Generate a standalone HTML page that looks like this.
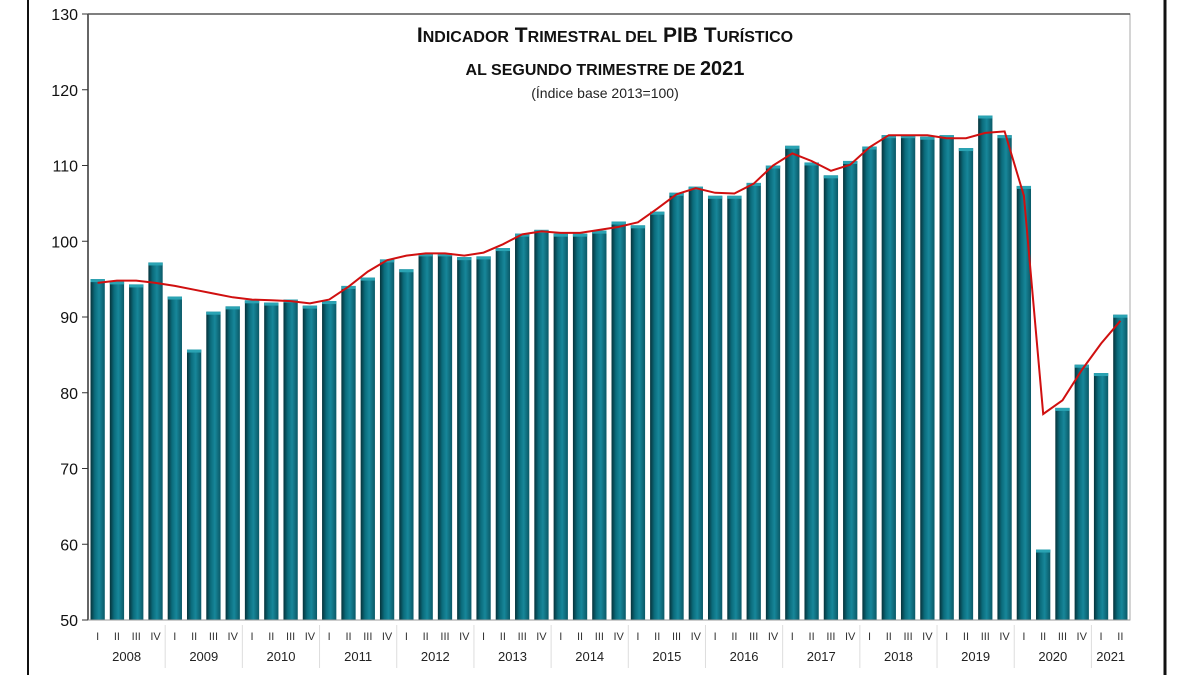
<!DOCTYPE html>
<html><head><meta charset="utf-8"><style>
body{margin:0;background:#fff;width:1200px;height:675px;overflow:hidden}
svg{display:block;font-family:"Liberation Sans",Arial,sans-serif}
</style></head><body>
<svg width="1200" height="675">
<defs>
<linearGradient id="bg" x1="0" x2="1" y1="0" y2="0">
<stop offset="0" stop-color="#06323a"/><stop offset="0.3" stop-color="#0b6c7c"/><stop offset="0.6" stop-color="#17879a"/><stop offset="1" stop-color="#0a5866"/>
</linearGradient>
</defs>
<line x1="28" y1="0" x2="28" y2="675" stroke="#111" stroke-width="2"/>
<line x1="1165" y1="0" x2="1165" y2="675" stroke="#111" stroke-width="3"/>
<g id="plot"></g>
<text x="605" y="42" text-anchor="middle" font-weight="bold" font-size="21" fill="#111">I<tspan font-size="16">NDICADOR</tspan> T<tspan font-size="16">RIMESTRAL DEL</tspan> PIB T<tspan font-size="16">URÍSTICO</tspan></text>
<text x="605" y="75" text-anchor="middle" font-weight="bold" font-size="16" fill="#111">AL SEGUNDO TRIMESTRE DE <tspan font-size="20">2021</tspan></text>
<text x="605" y="98" text-anchor="middle" font-size="14" fill="#222">(Índice base 2013=100)</text>
</svg>
<script>
const years=["2008","2009","2010","2011","2012","2013","2014","2015","2016","2017","2018","2019","2020","2021"];
const quarters=["I","II","III","IV"];
const values=[95,94.7,94.3,97.2, 92.7,85.7,90.7,91.4, 92.2,91.9,92.3,91.5, 92.1,94.1,95.2,97.6, 96.3,98.4,98.4,97.9, 98.0,99.1,101,101.5, 101,101,101.4,102.6, 102.1,103.9,106.4,107.2, 106,106,107.7,110, 112.6,110.4,108.7,110.6, 112.5,114,114,113.8, 114,112.3,116.6,114, 107.3,59.3,78,83.7, 82.6,90.3];
const trend=[94.5,94.8,94.8,94.5, 94.1,93.6,93.1,92.6, 92.3,92.2,92.1,91.8, 92.3,94,96,97.5, 98.1,98.4,98.4,98.1, 98.5,99.6,100.9,101.3, 101.1,101.1,101.5,101.9, 102.5,104.3,106.2,107, 106.4,106.3,107.6,110, 111.6,110.6,109.3,110.1, 112.4,114,114,114, 113.6,113.6,114.3,114.5, 106,77.2,79,83, 86.5,89.5];
const yTicks=[50,60,70,80,90,100,110,120,130];
const NS="http://www.w3.org/2000/svg";
const g=document.getElementById('plot');
const L=88,R=1130,T=14,B=620,yMin=50,yMax=130;
const n=values.length, step=(R-L)/n, bw=step*0.74;
const y=v=>B-(v-yMin)/(yMax-yMin)*(B-T);
const x=i=>L+step*i+(step-bw)/2;
function mk(t,a){const e=document.createElementNS(NS,t);for(const k in a)e.setAttribute(k,a[k]);g.appendChild(e);return e;}
let fr=mk('rect',{x:L,y:T,width:R-L,height:B-T,fill:'none',stroke:'#aaa','stroke-width':1});


let ax=mk('line',{x1:L,y1:T,x2:L,y2:B,stroke:'#333','stroke-width':1.5});


let tx=mk('line',{x1:L,y1:T,x2:R,y2:T,stroke:'#555','stroke-width':1.5});


yTicks.forEach(v=>{
 let t=mk('line',{x1:L-6,y1:y(v),x2:L,y2:y(v),stroke:'#333'});
 
 
 let l=mk('text',{x:L-10,y:y(v)+6,'text-anchor':'end','font-size':16,fill:'#111'});
 l.textContent=v;
 
 
});
values.forEach((v,i)=>{
 let r=mk('rect',{x:x(i),y:y(v),width:bw,height:B-y(v),fill:'url(#bg)'});
 
 
 let c=mk('rect',{x:x(i),y:y(v),width:bw,height:3,fill:'#2aa3b3'});
 
 
 let q=mk('text',{x:x(i)+bw/2,y:640,'text-anchor':'middle','font-size':11,fill:'#333'});
 q.textContent=quarters[i%4];
 
 
});
mk('line',{x1:L,y1:B,x2:R,y2:B,stroke:'#999'});
years.forEach((yr,k)=>{
 const cnt=Math.min(4,n-k*4);
 const cx=L+step*(k*4+cnt/2);
 let t=mk('text',{x:cx,y:661,'text-anchor':'middle','font-size':13,fill:'#222'});
 t.textContent=yr;
 
 
 if(k>0){let s=mk('line',{x1:L+step*k*4,y1:625,x2:L+step*k*4,y2:668,stroke:'#ddd'});
 
 }
});
let d=trend.map((v,i)=>(i?'L':'M')+(x(i)+bw/2).toFixed(1)+' '+y(v).toFixed(1)).join(' ');
let p=mk('path',{d:d,fill:'none',stroke:'#d01010','stroke-width':2});


</script>
</body></html>
